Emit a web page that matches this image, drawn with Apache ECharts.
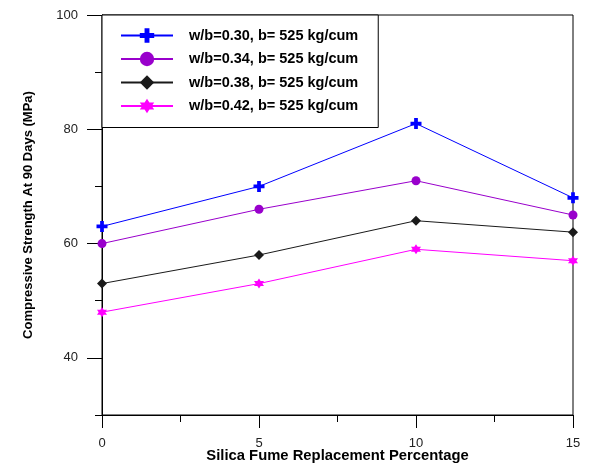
<!DOCTYPE html>
<html><head><meta charset="utf-8">
<script src="https://cdn.jsdelivr.net/npm/echarts@6/dist/echarts.min.js"></script>
<style>html,body{margin:0;padding:0;background:#fff}#c{width:589px;height:464px}</style>
</head><body><div id="c"></div>
<script>
const xValues = [0, 5, 10, 15];
const seriesNames = ['w/b=0.30, b= 525 kg/cum','w/b=0.34, b= 525 kg/cum','w/b=0.38, b= 525 kg/cum','w/b=0.42, b= 525 kg/cum'];
const s030 = [63, 70, 81, 68];
const s034 = [60, 66, 71, 65];
const s038 = [53, 58, 64, 62];
const s042 = [48, 53, 59, 57];
const yMajorTicks = [40, 60, 80, 100];
const yMinorTicks = [30, 50, 70, 90];
const xMajorTicks = [0, 5, 10, 15];
const xMinorTicks = [2.5, 7.5, 12.5];

const FONT = 'Liberation Sans, Arial, sans-serif';
const plus = 'path://M3.3,0H6.7V3.3H10V6.7H6.7V10H3.3V6.7H0V3.3H3.3Z';
const star = 'path://M10,0L12.89,5L18.66,5L15.77,10L18.66,15L12.89,15L10,20L7.11,15L1.34,15L4.23,10L1.34,5L7.11,5Z';

function mk(name, vals, color, symbol, size){
  return {name, type:'line', data: xValues.map((x,i)=>[x, vals[i]]), symbol, symbolSize:size,
    showSymbol:true, lineStyle:{color, width:1}, itemStyle:{color}, emphasis:{disabled:true}, z:3};
}
const chart = echarts.init(document.getElementById('c'), null, {renderer:'canvas'});
chart.setOption({
  animation:false,
  backgroundColor:'#fff',
  grid:{left:102, top:15, right:16, bottom:49, show:true, borderColor:'#000', borderWidth:1,
    containLabel:false, outerBoundsMode:'none'},
  legend:{
    orient:'vertical', left:102, top:15, padding:[13,20,14,18],
    borderColor:'#000', borderWidth:1, backgroundColor:'#fff',
    itemWidth:52, itemHeight:18, itemGap:8.5,
    textStyle:{fontFamily:FONT, fontWeight:'bold', fontSize:14.5, color:'#000', padding:[0,0,0,11]},
    data: seriesNames, z:10
  },
  xAxis:[{
    type:'value', min:0, max:15, interval:2.5,
    axisLine:{show:true, lineStyle:{color:'#000', width:1}},
    axisTick:{show:true, length:13, lineStyle:{color:'#000'}, customValues:xMajorTicks},
    axisLabel:{customValues:xMajorTicks, fontFamily:FONT, fontSize:13, color:'#222', margin:22},
    splitLine:{show:false},
    name:'Silica Fume Replacement Percentage', nameLocation:'middle', nameGap:33, nameMoveOverlap:false,
    nameTextStyle:{fontFamily:FONT, fontWeight:'bold', fontSize:14.8, color:'#000'}
  },{
    type:'value', min:0, max:15, interval:2.5, position:'bottom',
    axisLine:{show:false},
    axisTick:{show:true, length:7, lineStyle:{color:'#000'}, customValues:xMinorTicks},
    axisLabel:{show:false}, splitLine:{show:false}
  }],
  yAxis:[{
    type:'value', min:30, max:100, interval:10,
    axisLine:{show:true, lineStyle:{color:'#000', width:1}},
    axisTick:{show:true, length:15, lineStyle:{color:'#000'}, customValues:yMajorTicks},
    axisLabel:{customValues:yMajorTicks, fontFamily:FONT, fontSize:13, color:'#222', margin:24},
    splitLine:{show:false},
    name:'Compressive Strength At 90 Days (MPa)', nameLocation:'middle', nameGap:67,
    nameTextStyle:{fontFamily:FONT, fontWeight:'bold', fontSize:13, color:'#000'}
  },{
    type:'value', min:30, max:100, interval:10, position:'left',
    axisLine:{show:false},
    axisTick:{show:true, length:7, lineStyle:{color:'#000'}, customValues:yMinorTicks},
    axisLabel:{show:false}, splitLine:{show:false}
  }],
  series:[
    mk(seriesNames[0], s030, '#0000FF', plus, 11),
    mk(seriesNames[1], s034, '#9900CC', 'circle', 9),
    mk(seriesNames[2], s038, '#1a1a1a', 'diamond', 10),
    mk(seriesNames[3], s042, '#FF00FF', star, 10)
  ]
});
</script></body></html>
